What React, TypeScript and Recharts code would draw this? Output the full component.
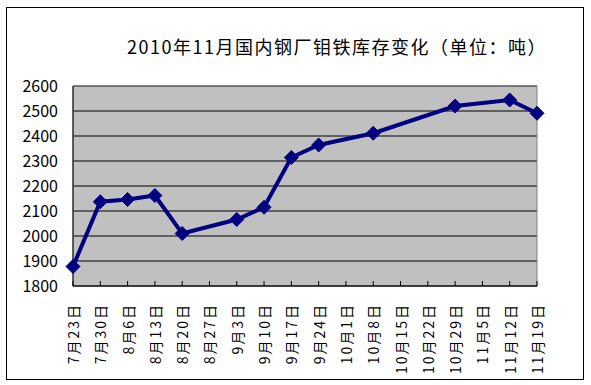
import * as React from "react";
import {
  LineChart,
  Line,
  XAxis,
  YAxis,
  CartesianGrid,
  ReferenceArea,
} from "recharts";

const TITLE = "2010年11月国内钢厂钼铁库存变化（单位：吨）";

const CATEGORIES = [
  "7月23日",
  "7月30日",
  "8月6日",
  "8月13日",
  "8月20日",
  "8月27日",
  "9月3日",
  "9月10日",
  "9月17日",
  "9月24日",
  "10月1日",
  "10月8日",
  "10月15日",
  "10月22日",
  "10月29日",
  "11月5日",
  "11月12日",
  "11月19日",
];

// empty weeks have no reading; the line joins across them
const STOCK: (number | null)[] = [
  1878, 2137, 2146, 2162, 2010, null, 2066, 2115, 2314, 2364, null, 2411,
  null, null, 2520, null, 2544, 2491,
];

const Y_TICKS = [1800, 1900, 2000, 2100, 2200, 2300, 2400, 2500, 2600];

const FONT = '"Noto Sans CJK SC", "Noto Sans", sans-serif';

const chartData = CATEGORIES.map((label, i) => ({ label, stock: STOCK[i] }));

function DiamondDot(props: any) {
  const { cx, cy, value } = props;
  if (value == null || cx == null || cy == null) return null;
  const r = 7;
  return (
    <polygon
      points={`${cx},${cy - r} ${cx + r},${cy} ${cx},${cy + r} ${cx - r},${cy}`}
      fill="#000080"
      stroke="#000080"
    />
  );
}

function DateTick(props: any) {
  const { x, y, payload } = props;
  return (
    <text
      x={x}
      y={y}
      transform={`rotate(-90, ${x}, ${y})`}
      textAnchor="end"
      dominantBaseline="central"
      fontSize={14}
      letterSpacing={2}
      fontFamily={FONT}
      fill="#000"
    >
      {payload.value}
    </text>
  );
}

export default function App() {
  return (
    <div
      style={{
        position: "absolute",
        left: 0,
        top: 0,
        width: 591,
        height: 385,
        background: "#fff",
      }}
    >
      <div
        style={{
          position: "absolute",
          left: 6,
          top: 7,
          width: 578,
          height: 373,
          border: "1px solid #000",
          boxSizing: "border-box",
        }}
      />
      <div
        style={{
          position: "absolute",
          left: 97,
          top: 34,
          width: 480,
          textAlign: "center",
          fontFamily: FONT,
          fontSize: 18,
          letterSpacing: 1.5,
          lineHeight: "24px",
          color: "#000",
        }}
      >
        {TITLE}
      </div>
      <LineChart
        width={591}
        height={385}
        data={chartData}
        margin={{ top: 86, right: 54, bottom: 0, left: 0 }}
        style={{ position: "absolute", left: 0, top: 0 }}
      >
        <CartesianGrid fill="#c0c0c0" stroke="#000" vertical={false} />
        <ReferenceArea
          x1={CATEGORIES[0]}
          x2={CATEGORIES[CATEGORIES.length - 1]}
          y1={1800}
          y2={2600}
          fill="none"
          stroke="#808080"
          strokeWidth={1}
          ifOverflow="visible"
        />
        <XAxis
          dataKey="label"
          interval={0}
          height={99}
          padding={{ left: 0, right: 0 }}
          axisLine={{ stroke: "#000" }}
          tickLine={{ stroke: "#000" }}
          tickSize={-5}
          tickMargin={22}
          tick={<DateTick />}
        />
        <YAxis
          width={73}
          domain={[1800, 2600]}
          ticks={Y_TICKS}
          interval={0}
          axisLine={{ stroke: "#000" }}
          tickLine={false}
          tickSize={0}
          tickMargin={15}
          tick={{ fontSize: 16, fill: "#000", fontFamily: FONT }}
        />
        <Line
          type="linear"
          dataKey="stock"
          stroke="#000080"
          strokeWidth={4}
          connectNulls
          dot={<DiamondDot />}
          activeDot={false}
          isAnimationActive={false}
        />
      </LineChart>
    </div>
  );
}
